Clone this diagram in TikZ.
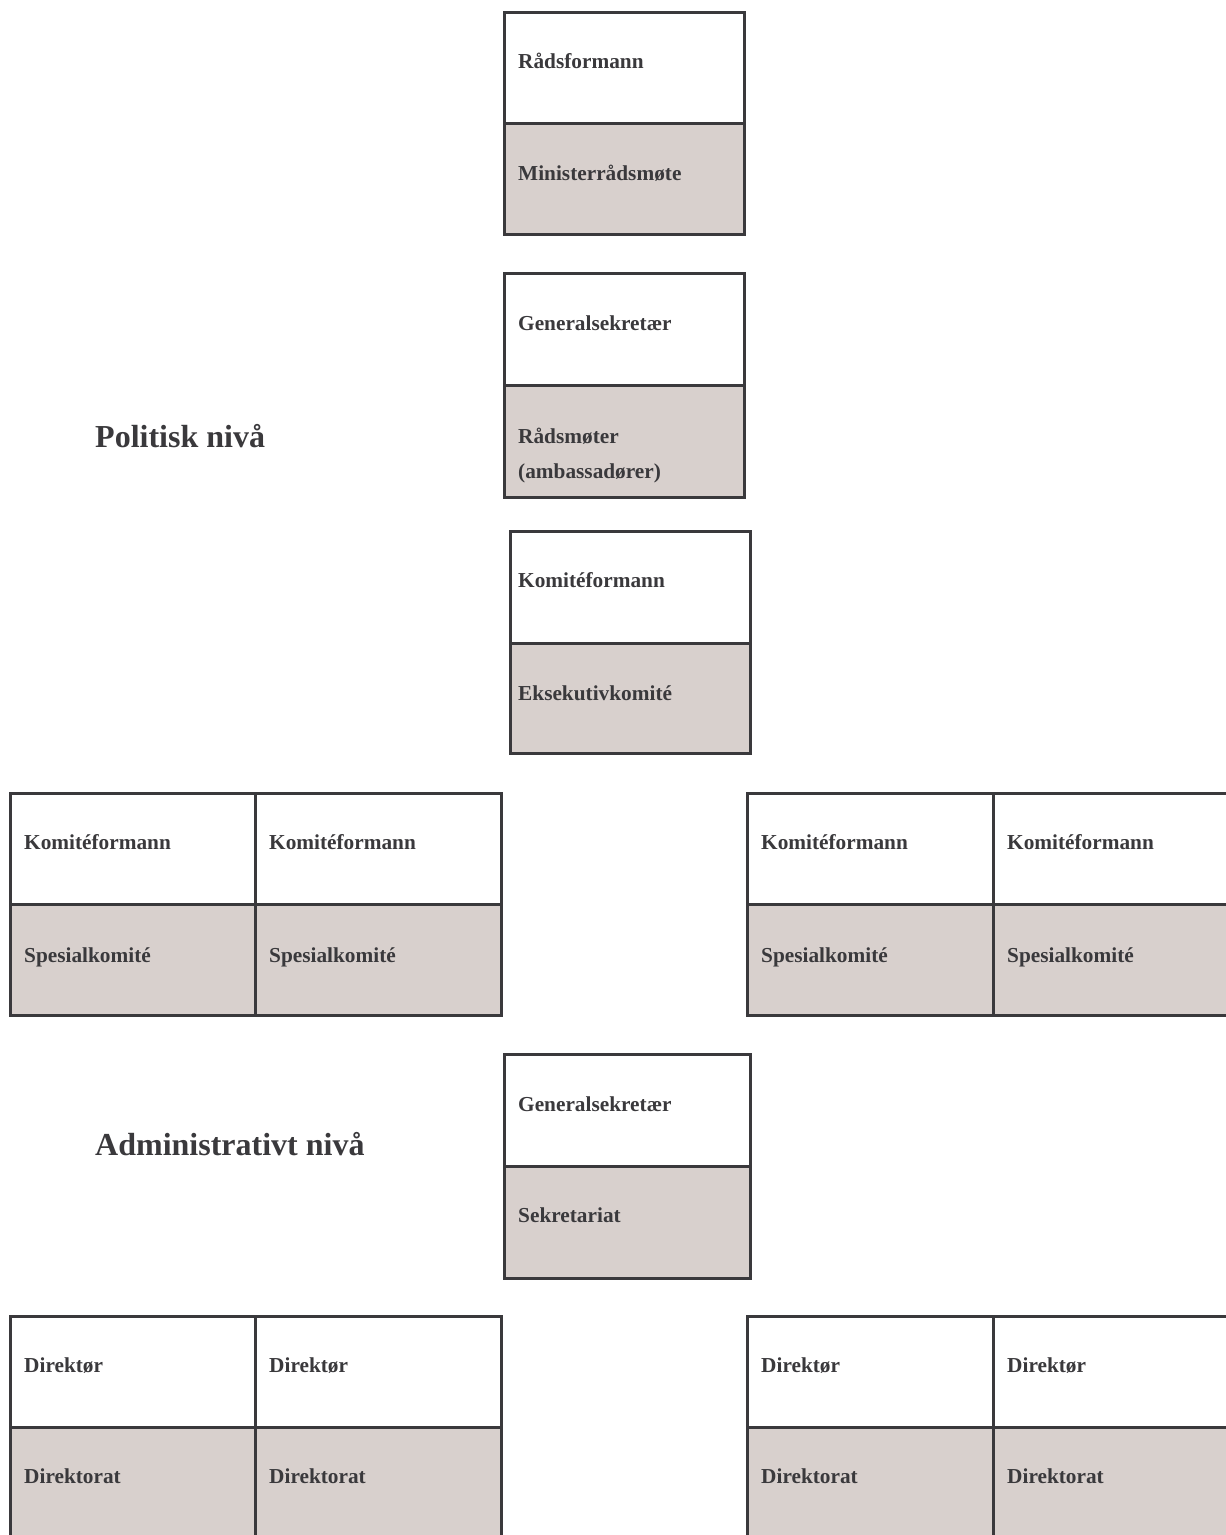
\documentclass[tikz,border=0pt]{standalone}
\usepackage{fontspec}
\setmainfont{Liberation Serif}
\definecolor{ink}{HTML}{3A393C}
\definecolor{shade}{HTML}{D8D0CD}
\begin{document}
\begin{tikzpicture}[x=1pt,y=-1pt,
  cell/.style={draw=ink, line width=2.5pt, anchor=north west, inner sep=0pt, fill=white},
  shadecell/.style={cell, fill=shade},
  txt/.style={anchor=base west, inner sep=0pt, text=ink, font=\fontsize{21.3}{25}\selectfont\bfseries},
  heading/.style={anchor=base west, inner sep=0pt, text=ink, font=\fontsize{32}{37}\selectfont\bfseries}]
\useasboundingbox (0,0) rectangle (1226,1535);
\clip (0,0) rectangle (1226,1535);
% Box A
\node[cell, minimum width=240pt, minimum height=111pt] (a1) at (503,11) {};
\node[shadecell, minimum width=240pt, minimum height=111pt] (a2) at (503,122) {};
\node[txt] (ta1) at (518,68) {Rådsformann};
\node[txt] (ta2) at (518,180) {Ministerrådsmøte};
% Box B
\node[cell, minimum width=240pt, minimum height=112pt] (b1) at (503,272) {};
\node[shadecell, minimum width=240pt, minimum height=112pt] (b2) at (503,384) {};
\node[txt] (tb1) at (518,330) {Generalsekretær};
\node[txt] (tb2) at (518,443) {Rådsmøter};
\node[txt] (tb3) at (518,478) {(ambassadører)};
% Box C
\node[cell, minimum width=240pt, minimum height=112pt] (c1) at (509,530) {};
\node[shadecell, minimum width=240pt, minimum height=110pt] (c2) at (509,642) {};
\node[txt] (tc1) at (518,587) {Komitéformann};
\node[txt] (tc2) at (518,700) {Eksekutivkomité};
% Headings
\node[heading] (h1) at (95,447) {Politisk nivå};
\node[heading] (h2) at (95,1155) {Administrativt nivå};
% Committee pairs
\foreach \n/\x/\w in {p1/9/245, p2/254/246, p3/746/246, p4/992/246}{
  \node[cell, minimum width=\w pt, minimum height=111pt] (\n a) at (\x,792) {};
  \node[shadecell, minimum width=\w pt, minimum height=111pt] (\n b) at (\x,903) {};
  \node[txt] (\n ta) at (\x+15,849) {Komitéformann};
  \node[txt] (\n tb) at (\x+15,962) {Spesialkomité};
}
% Box D
\node[cell, minimum width=246pt, minimum height=112pt] (d1) at (503,1053) {};
\node[shadecell, minimum width=246pt, minimum height=112pt] (d2) at (503,1165) {};
\node[txt] (td1) at (518,1111) {Generalsekretær};
\node[txt] (td2) at (518,1222) {Sekretariat};
% Directorate pairs
\foreach \n/\x/\w in {q1/9/245, q2/254/246, q3/746/246, q4/992/246}{
  \node[cell, minimum width=\w pt, minimum height=111pt] (\n a) at (\x,1315) {};
  \node[shadecell, minimum width=\w pt, minimum height=115pt] (\n b) at (\x,1426) {};
  \node[txt] (\n ta) at (\x+15,1372) {Direktør};
  \node[txt] (\n tb) at (\x+15,1483) {Direktorat};
}
\end{tikzpicture}
\end{document}
